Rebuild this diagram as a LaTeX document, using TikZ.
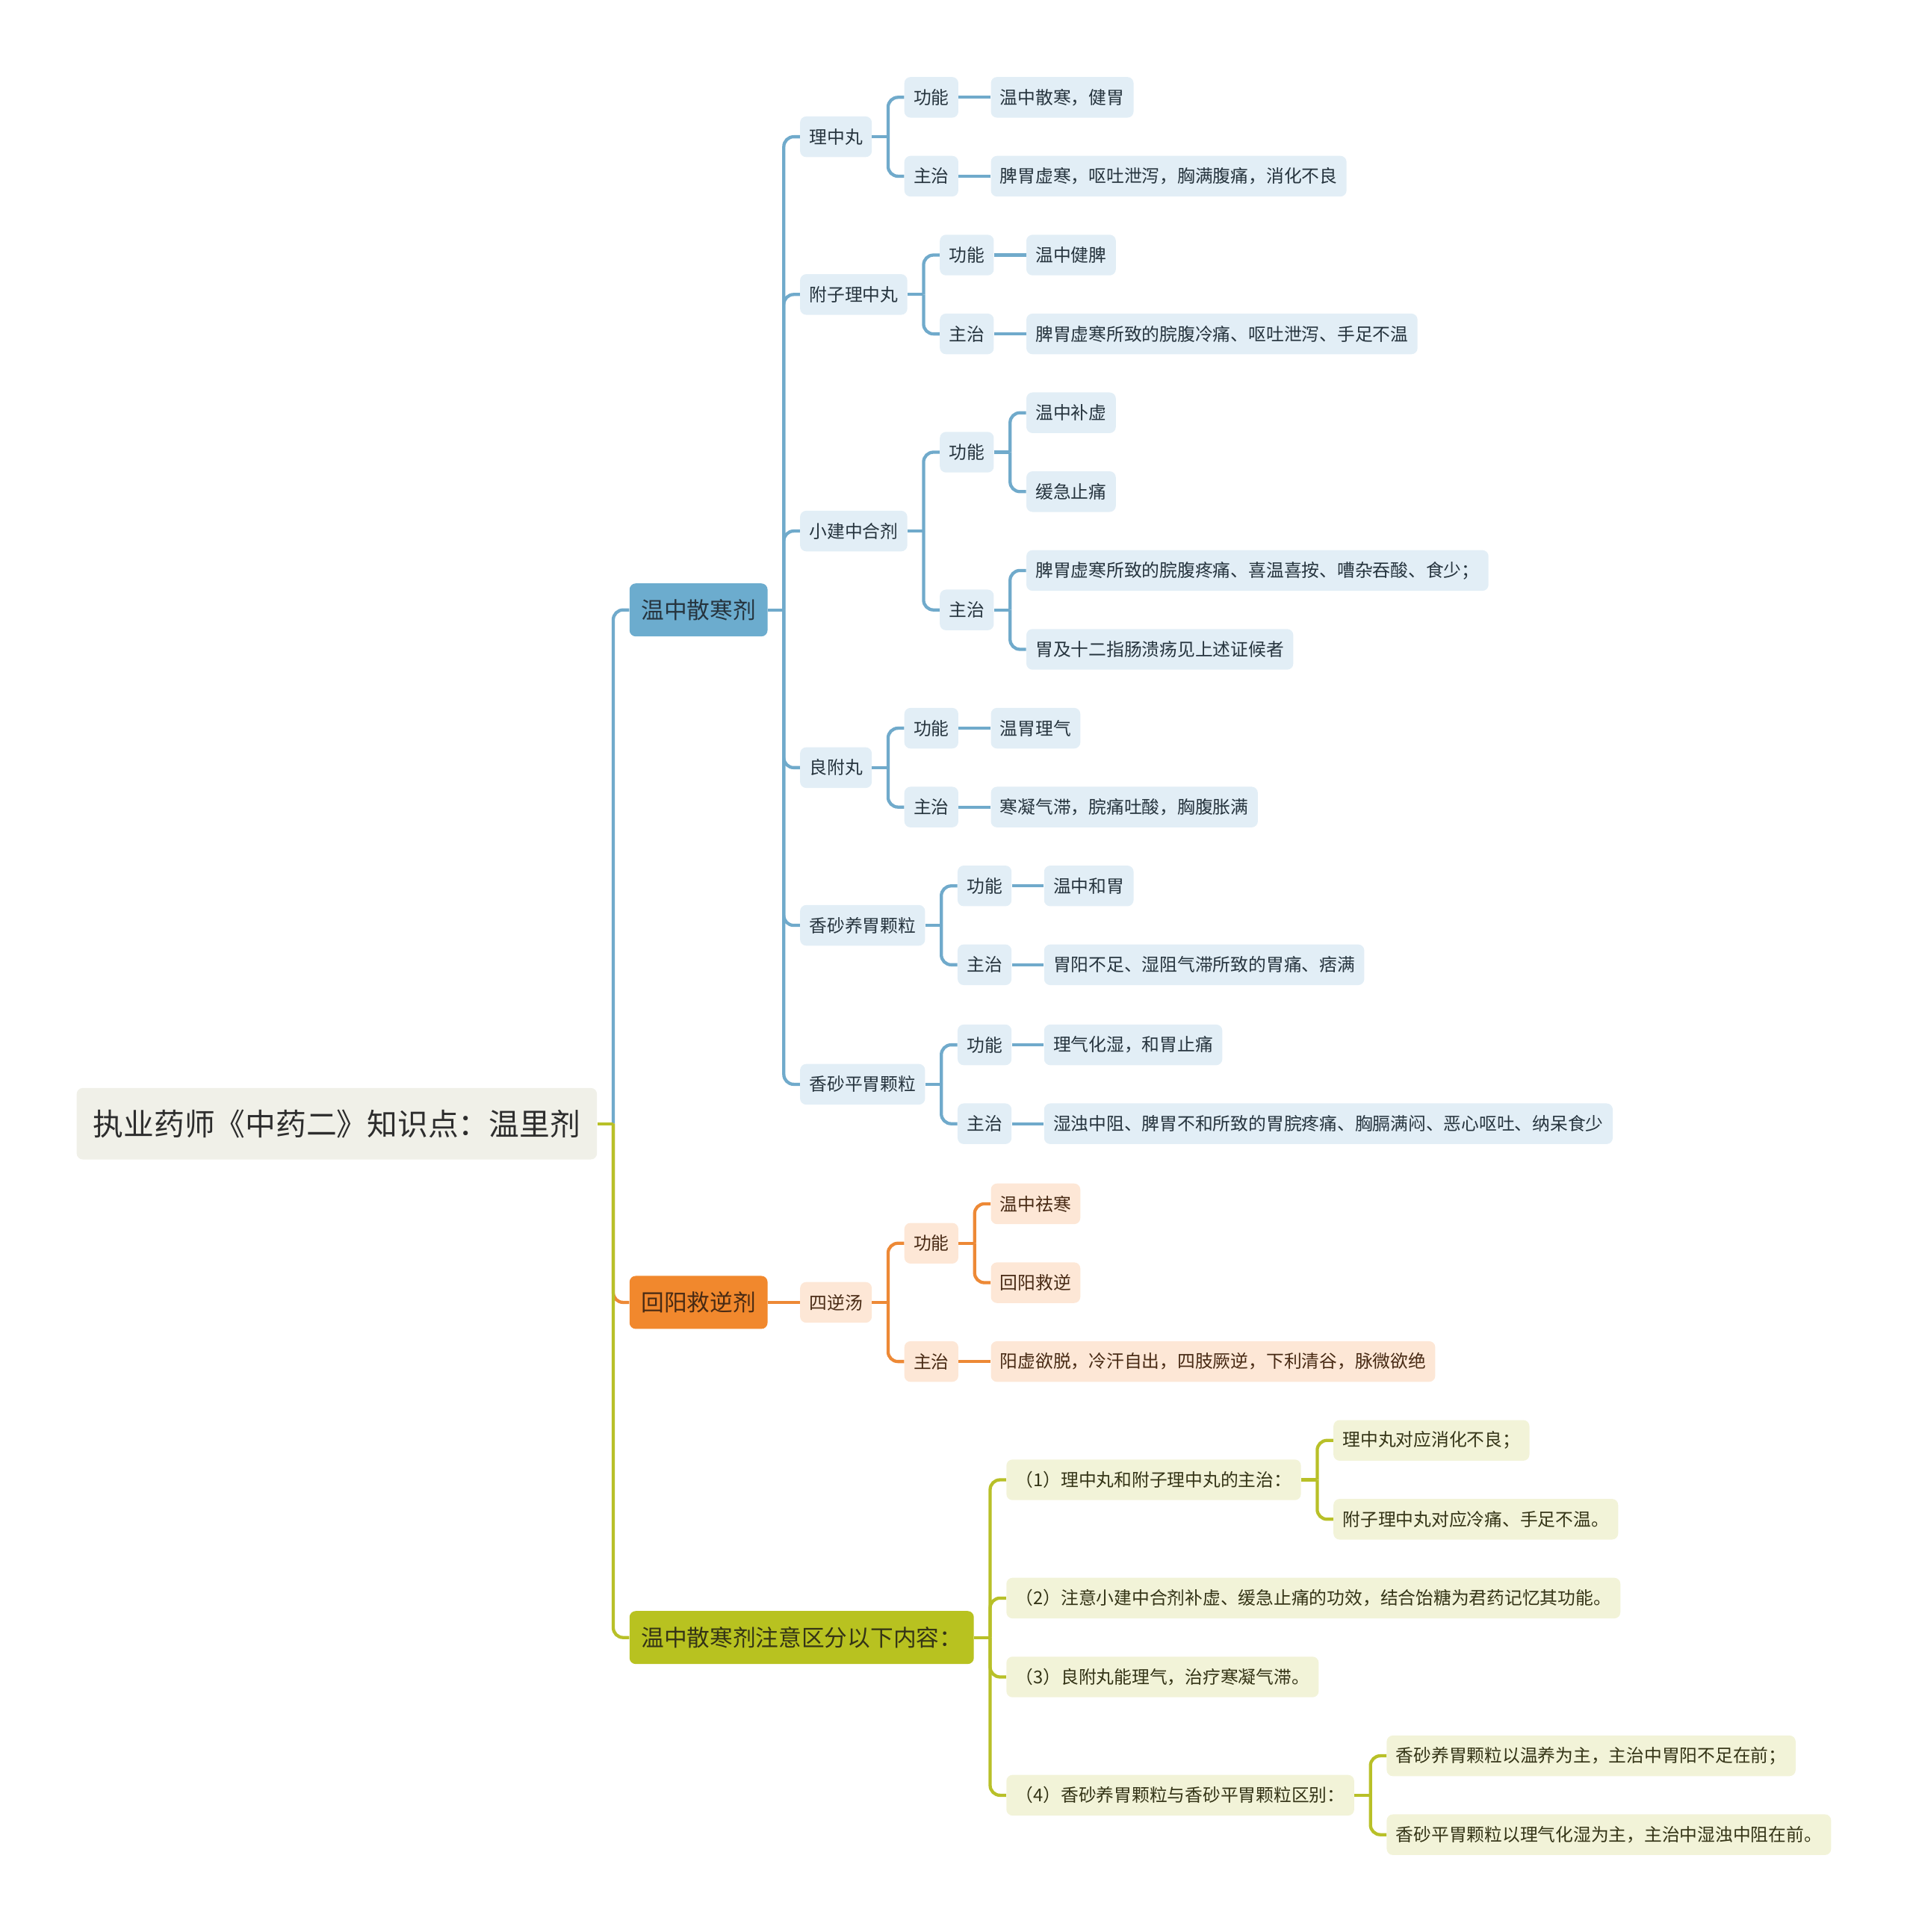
\documentclass[tikz,border=0pt]{standalone}
\usepackage{fontspec}
\setmainfont{Noto Sans CJK SC}
\usetikzlibrary{positioning}

\definecolor{rootbg}{RGB}{240,240,232}
\definecolor{rootfg}{RGB}{45,45,45}
\definecolor{bmainbg}{RGB}{108,172,206}
\definecolor{bsubbg}{RGB}{226,238,246}
\definecolor{bline}{RGB}{112,170,203}
\definecolor{bfg}{RGB}{38,52,62}
\definecolor{omainbg}{RGB}{241,136,45}
\definecolor{osubbg}{RGB}{253,231,214}
\definecolor{oline}{RGB}{237,137,54}
\definecolor{ofg}{RGB}{72,42,20}
\definecolor{gmainbg}{RGB}{184,194,32}
\definecolor{gsubbg}{RGB}{242,243,216}
\definecolor{gline}{RGB}{184,192,40}
\definecolor{gfg}{RGB}{52,52,22}

\begin{document}
\begin{tikzpicture}[x=1pt, y=1pt,
  base/.style={rectangle, rounded corners=5pt, anchor=west, inner ysep=0pt, text centered},
  root/.style={base, fill=rootbg, text=rootfg, minimum height=58pt, inner xsep=13.5pt,
               font=\fontsize{24.7}{26}\selectfont},
  main/.style={base, minimum height=43pt, inner xsep=9.5pt, font=\fontsize{18.6}{20}\selectfont},
  sub/.style={base, minimum height=33pt, inner xsep=7.5pt, font=\fontsize{14.4}{16}\selectfont},
  bmain/.style={main, fill=bmainbg, text=bfg},
  omain/.style={main, fill=omainbg, text=ofg},
  gmain/.style={main, fill=gmainbg, text=gfg},
  bsub/.style={sub, fill=bsubbg, text=bfg},
  osub/.style={sub, fill=osubbg, text=ofg},
  gsub/.style={sub, fill=gsubbg, text=gfg},
  kid/.style={xshift=26pt, yshift=#1},
  link/.style={line width=2.6pt, rounded corners=8pt},
  bl/.style={link, draw=bline},
  ol/.style={link, draw=oline},
  gl/.style={link, draw=gline}]
  \useasboundingbox (0,0) rectangle (1552,-1568);

  % root and main branches
  \node[root] (R) at (62,-912) {执业药师《中药二》知识点：温里剂};
  \node[bmain, kid=417pt] (WZ) at (R.east) {温中散寒剂};
  \node[omain, kid=-145pt] (HY) at (R.east) {回阳救逆剂};
  \node[gmain, kid=-417pt] (ZY) at (R.east) {温中散寒剂注意区分以下内容：};

  % 温中散寒剂
  \node[bsub, kid=384pt] (LZW) at (WZ.east) {理中丸};
  \node[bsub, kid=256pt] (FZ) at (WZ.east) {附子理中丸};
  \node[bsub, kid=64pt] (XJZ) at (WZ.east) {小建中合剂};
  \node[bsub, kid=-128pt] (LF) at (WZ.east) {良附丸};
  \node[bsub, kid=-256pt] (XSY) at (WZ.east) {香砂养胃颗粒};
  \node[bsub, kid=-385pt] (XSP) at (WZ.east) {香砂平胃颗粒};

  \node[bsub, kid=32pt] (LZWgn) at (LZW.east) {功能};
  \node[bsub, kid=-32pt] (LZWzz) at (LZW.east) {主治};
  \node[bsub, kid=0pt] (LZWgnT) at (LZWgn.east) {温中散寒，健胃};
  \node[bsub, kid=0pt] (LZWzzT) at (LZWzz.east) {脾胃虚寒，呕吐泄泻，胸满腹痛，消化不良};

  \node[bsub, kid=32pt] (FZgn) at (FZ.east) {功能};
  \node[bsub, kid=-32pt] (FZzz) at (FZ.east) {主治};
  \node[bsub, kid=0pt] (FZgnT) at (FZgn.east) {温中健脾};
  \node[bsub, kid=0pt] (FZzzT) at (FZzz.east) {脾胃虚寒所致的脘腹冷痛、呕吐泄泻、手足不温};

  \node[bsub, kid=64pt] (XJZgn) at (XJZ.east) {功能};
  \node[bsub, kid=-64pt] (XJZzz) at (XJZ.east) {主治};
  \node[bsub, kid=32pt] (XJZgnA) at (XJZgn.east) {温中补虚};
  \node[bsub, kid=-32pt] (XJZgnB) at (XJZgn.east) {缓急止痛};
  \node[bsub, kid=32pt] (XJZzzA) at (XJZzz.east) {脾胃虚寒所致的脘腹疼痛、喜温喜按、嘈杂吞酸、食少；};
  \node[bsub, kid=-32pt] (XJZzzB) at (XJZzz.east) {胃及十二指肠溃疡见上述证候者};

  \node[bsub, kid=32pt] (LFgn) at (LF.east) {功能};
  \node[bsub, kid=-32pt] (LFzz) at (LF.east) {主治};
  \node[bsub, kid=0pt] (LFgnT) at (LFgn.east) {温胃理气};
  \node[bsub, kid=0pt] (LFzzT) at (LFzz.east) {寒凝气滞，脘痛吐酸，胸腹胀满};

  \node[bsub, kid=32pt] (XSYgn) at (XSY.east) {功能};
  \node[bsub, kid=-32pt] (XSYzz) at (XSY.east) {主治};
  \node[bsub, kid=0pt] (XSYgnT) at (XSYgn.east) {温中和胃};
  \node[bsub, kid=0pt] (XSYzzT) at (XSYzz.east) {胃阳不足、湿阻气滞所致的胃痛、痞满};

  \node[bsub, kid=32pt] (XSPgn) at (XSP.east) {功能};
  \node[bsub, kid=-32pt] (XSPzz) at (XSP.east) {主治};
  \node[bsub, kid=0pt] (XSPgnT) at (XSPgn.east) {理气化湿，和胃止痛};
  \node[bsub, kid=0pt] (XSPzzT) at (XSPzz.east) {湿浊中阻、脾胃不和所致的胃脘疼痛、胸膈满闷、恶心呕吐、纳呆食少};

  % 回阳救逆剂
  \node[osub, kid=0pt] (SN) at (HY.east) {四逆汤};
  \node[osub, kid=48pt] (SNgn) at (SN.east) {功能};
  \node[osub, kid=-48pt] (SNzz) at (SN.east) {主治};
  \node[osub, kid=32pt] (SNgnA) at (SNgn.east) {温中祛寒};
  \node[osub, kid=-32pt] (SNgnB) at (SNgn.east) {回阳救逆};
  \node[osub, kid=0pt] (SNzzT) at (SNzz.east) {阳虚欲脱，冷汗自出，四肢厥逆，下利清谷，脉微欲绝};

  % 注意区分
  \node[gsub, kid=128pt] (Z1) at (ZY.east) {（1）理中丸和附子理中丸的主治：};
  \node[gsub, kid=32pt] (Z2) at (ZY.east) {（2）注意小建中合剂补虚、缓急止痛的功效，结合饴糖为君药记忆其功能。};
  \node[gsub, kid=-32pt] (Z3) at (ZY.east) {（3）良附丸能理气，治疗寒凝气滞。};
  \node[gsub, kid=-128pt] (Z4) at (ZY.east) {（4）香砂养胃颗粒与香砂平胃颗粒区别：};
  \node[gsub, kid=32pt] (Z1a) at (Z1.east) {理中丸对应消化不良；};
  \node[gsub, kid=-32pt] (Z1b) at (Z1.east) {附子理中丸对应冷痛、手足不温。};
  \node[gsub, kid=32pt] (Z4a) at (Z4.east) {香砂养胃颗粒以温养为主，主治中胃阳不足在前；};
  \node[gsub, kid=-32pt] (Z4b) at (Z4.east) {香砂平胃颗粒以理气化湿为主，主治中湿浊中阻在前。};

  % connectors
  \draw[bl] (WZ.east) -- ++(13,0) coordinate (WZj);
  \foreach \c in {LZW,FZ,XJZ,LF,XSY,XSP} \draw[bl] (WZj) |- (\c.west);
  \foreach \p in {LZW,FZ,XJZ,LF,XSY,XSP} {
    \draw[bl] (\p.east) -- ++(13,0) coordinate (\p j);
    \draw[bl] (\p j) |- (\p gn.west);
    \draw[bl] (\p j) |- (\p zz.west);
  }
  \foreach \p in {LZW,FZ,LF,XSY,XSP} {
    \draw[bl] (\p gn) -- (\p gnT);
    \draw[bl] (\p zz) -- (\p zzT);
  }
  \draw[bl] (XJZgn.east) -- ++(13,0) coordinate (XJZgnj);
  \draw[bl] (XJZgnj) |- (XJZgnA.west);
  \draw[bl] (XJZgnj) |- (XJZgnB.west);
  \draw[bl] (XJZzz.east) -- ++(13,0) coordinate (XJZzzj);
  \draw[bl] (XJZzzj) |- (XJZzzA.west);
  \draw[bl] (XJZzzj) |- (XJZzzB.west);

  \draw[ol] (HY) -- (SN);
  \draw[ol] (SN.east) -- ++(13,0) coordinate (SNj);
  \draw[ol] (SNj) |- (SNgn.west);
  \draw[ol] (SNj) |- (SNzz.west);
  \draw[ol] (SNgn.east) -- ++(13,0) coordinate (SNgnj);
  \draw[ol] (SNgnj) |- (SNgnA.west);
  \draw[ol] (SNgnj) |- (SNgnB.west);
  \draw[ol] (SNzz) -- (SNzzT);

  \draw[gl] (ZY.east) -- ++(13,0) coordinate (ZYj);
  \foreach \c in {Z1,Z2,Z3,Z4} \draw[gl] (ZYj) |- (\c.west);
  \draw[gl] (Z1.east) -- ++(13,0) coordinate (Z1j);
  \draw[gl] (Z1j) |- (Z1a.west);
  \draw[gl] (Z1j) |- (Z1b.west);
  \draw[gl] (Z4.east) -- ++(13,0) coordinate (Z4j);
  \draw[gl] (Z4j) |- (Z4a.west);
  \draw[gl] (Z4j) |- (Z4b.west);

  % root to main branches
  \draw[bl] (R.east) ++(13,0) coordinate (Rj) |- (WZ.west);
  \draw[ol] (Rj) |- (HY.west);
  \draw[gl] (Rj) |- (ZY.west);
  \draw[gl] (R.east) -- (Rj);
\end{tikzpicture}
\end{document}
